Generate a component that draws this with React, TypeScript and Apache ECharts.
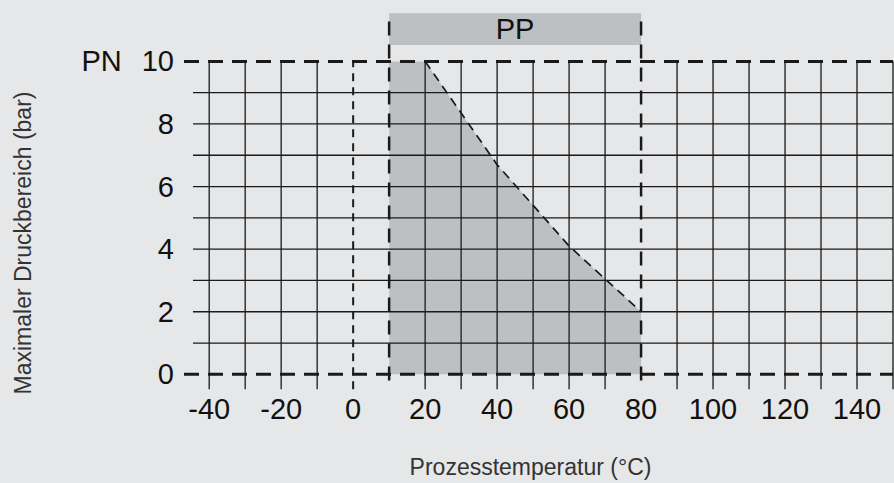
import React, { useEffect, useRef } from "react";
import * as echarts from "echarts";

// ---- data ----
const xTickLabels = [-40, -20, 0, 20, 40, 60, 80, 100, 120, 140];
const yTickLabels = [0, 2, 4, 6, 8, 10];
const xThinGrid = [-40, -30, -20, -10, 20, 30, 40, 50, 60, 70, 90, 100, 110, 120, 130, 140, 150];
const yThinGrid = [1, 2, 3, 4, 5, 6, 7, 8, 9];
const xZeroLine = [0];
const xRangeLines = [10, 80];
const yBoldLines = [0, 10];
const fillTemps = [10, 20, 40, 60, 80];
const fillBars = [10, 10, 6.7, 4.1, 2];
const curveTemps = [20, 40, 60, 80];
const curveBars = [10, 6.7, 4.1, 2];
const materialName = "PP";
const materialRange = [10, 80];

const X_MIN = -47;
const X_MAX = 150;
const Y_MIN = -0.5;
const Y_MAX = 11.6;

const FONT = "'Liberation Sans', Arial, Helvetica, sans-serif";
const INK = "#1a1a1a";

export default function App() {
  const ref = useRef<HTMLDivElement>(null);

  useEffect(() => {
    if (!ref.current) return;
    const chart = echarts.init(ref.current, null, { renderer: "svg" });

    const seg = (pts: number[][], style: any, z: number, name: string) => ({
      type: "line",
      name,
      data: pts,
      symbol: "none",
      silent: true,
      z,
      lineStyle: style,
      animation: false,
    });

    const series: any[] = [];

    series.push({
      type: "line",
      name: "fill",
      data: fillTemps.map((t, i) => [t, fillBars[i]]),
      symbol: "none",
      silent: true,
      z: 1,
      lineStyle: { width: 0 },
      areaStyle: { color: "#bdc0c2", opacity: 1, origin: 0 },
      markArea: {
        silent: true,
        itemStyle: { color: "#bdc0c2" },
        label: {
          show: true,
          position: "inside",
          formatter: materialName,
          fontSize: 29,
          color: "#111",
          fontFamily: FONT,
        },
        data: [[{ xAxis: materialRange[0], yAxis: 10.52 }, { xAxis: materialRange[1], yAxis: 11.54 }]],
      },
    });

    yThinGrid.forEach((y) =>
      series.push(seg([[-44.5, y], [X_MAX, y]], { color: INK, width: 1.3 }, 2, "h" + y))
    );
    xThinGrid.forEach((x) =>
      series.push(seg([[x, -0.48], [x, 10]], { color: INK, width: 1.3 }, 2, "v" + x))
    );
    xZeroLine.forEach((x) =>
      series.push(seg([[x, -0.48], [x, 10]], { color: INK, width: 2, type: [8, 6] }, 3, "z" + x))
    );
    xRangeLines.forEach((x) =>
      series.push(seg([[x, -0.2], [x, 11.55]], { color: INK, width: 2.5, type: [14, 9] }, 4, "r" + x))
    );
    yBoldLines.forEach((y) =>
      series.push(seg([[X_MIN, y], [X_MAX, y]], { color: INK, width: 3, type: [15, 9] }, 4, "b" + y))
    );
    series.push(
      seg(
        curveTemps.map((t, i) => [t, curveBars[i]]),
        { color: INK, width: 1.7, type: [9, 6] },
        5,
        "curve"
      )
    );

    chart.setOption({
      animation: false,
      backgroundColor: "#e6e7e9",
      grid: { left: 184, right: 1, top: 11.3, bottom: 90.55, containLabel: false },
      xAxis: {
        type: "value",
        min: X_MIN,
        max: X_MAX,
        axisLine: { show: false },
        axisTick: { show: false },
        splitLine: { show: false },
        axisLabel: {
          customValues: xTickLabels,
          fontSize: 29,
          color: "#111",
          fontFamily: FONT,
          margin: 4,
        },
        name: "Prozesstemperatur (°C)",
        nameLocation: "middle",
        nameGap: 65,
        nameTextStyle: { fontSize: 23, color: "#333", fontFamily: FONT, padding: [0, 16, 0, 0] },
      },
      yAxis: {
        type: "value",
        min: Y_MIN,
        max: Y_MAX,
        axisLine: { show: false },
        axisTick: { show: false },
        splitLine: { show: false },
        axisLabel: {
          customValues: yTickLabels,
          fontSize: 29,
          color: "#111",
          fontFamily: FONT,
          margin: 10,
          formatter: (v: number) => (v === 10 ? "{pn|PN}10" : String(v)),
          rich: {
            pn: { fontSize: 29, color: "#111", fontFamily: FONT, padding: [0, 20, 0, 0] },
          },
        },
      },
      graphic: [
        {
          type: "text",
          x: 22.5,
          y: 243,
          rotation: Math.PI / 2,
          silent: true,
          style: {
            text: "Maximaler Druckbereich (bar)",
            fontSize: 23,
            fontFamily: FONT,
            fill: "#333",
            align: "center",
            verticalAlign: "middle",
          },
        },
      ],
      series,
    });

    return () => chart.dispose();
  }, []);

  return (
    <div
      ref={ref}
      style={{ position: "absolute", left: 0, top: 0, width: 894, height: 483 }}
    />
  );
}
